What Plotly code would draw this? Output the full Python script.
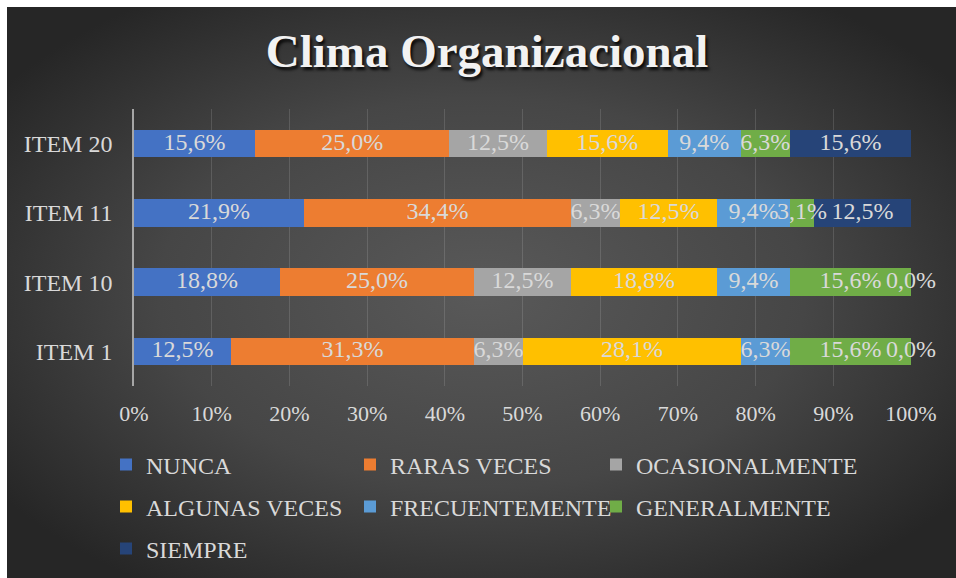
import base64
import plotly.graph_objects as go

# ---------------- data ----------------
items = ["ITEM 1", "ITEM 10", "ITEM 11", "ITEM 20"]
series = ["NUNCA", "RARAS VECES", "OCASIONALMENTE", "ALGUNAS VECES",
          "FRECUENTEMENTE", "GENERALMENTE", "SIEMPRE"]
nunca = [12.5, 18.8, 21.9, 15.6]
raras_veces = [31.3, 25.0, 34.4, 25.0]
ocasionalmente = [6.3, 12.5, 6.3, 12.5]
algunas_veces = [28.1, 18.8, 12.5, 15.6]
frecuentemente = [6.3, 9.4, 9.4, 9.4]
generalmente = [15.6, 15.6, 3.1, 6.3]
siempre = [0.0, 0.0, 12.5, 15.6]
x_tick_values = [0, 10, 20, 30, 40, 50, 60, 70, 80, 90, 100]
x_tick_labels = ["0%", "10%", "20%", "30%", "40%", "50%", "60%", "70%", "80%", "90%", "100%"]
title_text = "Clima Organizacional"

values = [nunca, raras_veces, ocasionalmente, algunas_veces,
          frecuentemente, generalmente, siempre]
colors = ["#4472C4", "#ED7D31", "#A5A5A5", "#FFC000", "#5B9BD5", "#70AD47", "#264478"]

W, H = 956, 578
ML, MR, MT, MB = 134, 45, 109, 192
PW, PH = W - ML - MR, H - MT - MB

FONT = "Liberation Serif, Times New Roman, serif"
TXT = "#D9D9D9"
LBL = 24

# legend grid: 3 columns, rows of 3 / 3 / 1 (pixel positions of each entry)
leg_cols_px = [106, 350, 596]
leg_rows_px = [465, 507, 549]


def fmt(v):
    return f"{v:.1f}".replace(".", ",") + "%"


fig = go.Figure()
for i, (name, vals, col) in enumerate(zip(series, values, colors)):
    lid = "legend" if i == 0 else f"legend{i + 1}"
    fig.add_trace(go.Bar(
        y=items, x=vals, name=name, orientation="h",
        marker=dict(color=col, line=dict(width=0)),
        legend=lid, hoverinfo="skip",
    ))

# data labels (drawn on top of every bar, centred on each segment)
lx, ly, lt = [], [], []
for k, it in enumerate(items):
    total = sum(v[k] for v in values)
    cum = 0.0
    for vals in values:
        lx.append(100.0 * (cum + vals[k] / 2) / total)
        ly.append(it)
        lt.append(fmt(vals[k]))
        cum += vals[k]
fig.add_trace(go.Scatter(
    x=lx, y=ly, text=lt, mode="text", showlegend=False, cliponaxis=False,
    textposition="middle center",
    textfont=dict(family=FONT, size=LBL, color=TXT), hoverinfo="skip",
))

# background radial gradient (chart area) as an SVG image
bw, bh = W - 7, H - 7
svg = (f'<svg xmlns="http://www.w3.org/2000/svg" width="{bw}" height="{bh}">'
       '<defs><radialGradient id="g" cx="50%" cy="50%" r="62%">'
       '<stop offset="0" stop-color="#595959"/>'
       '<stop offset="0.55" stop-color="#464646"/>'
       '<stop offset="1" stop-color="#262626"/>'
       '</radialGradient></defs>'
       f'<rect width="{bw}" height="{bh}" fill="url(#g)"/></svg>')
src = "data:image/svg+xml;base64," + base64.b64encode(svg.encode()).decode()

fig.update_layout(
    width=W, height=H,
    margin=dict(l=ML, r=MR, t=MT, b=MB, pad=0, autoexpand=False),
    paper_bgcolor="white", plot_bgcolor="rgba(0,0,0,0)",
    barmode="stack", barnorm="percent", bargap=0.6,
    font=dict(family=FONT, color=TXT, size=22),
    title=dict(text=title_text, x=487 / W, xanchor="center", xref="container",
               y=1 - 51 / H, yanchor="middle", yref="container",
               font=dict(family=FONT, size=47, color="#F2F2F2", weight="bold",
                         shadow="2px 3px 3px rgba(0,0,0,0.85)")),
    images=[dict(source=src, xref="paper", yref="paper",
                 x=(7 - ML) / PW, y=(H - MB - 7) / PH,
                 sizex=bw / PW, sizey=bh / PH,
                 xanchor="left", yanchor="top", sizing="stretch", layer="below")],
    xaxis=dict(range=[0, 100], tickvals=x_tick_values, ticktext=x_tick_labels,
               showgrid=True, gridcolor="rgba(255,255,255,0.13)", gridwidth=1,
               zeroline=False, showline=False, ticks="",
               tickfont=dict(family=FONT, size=22, color=TXT),
               ticklabelstandoff=12, automargin=False),
    yaxis=dict(showline=True, linecolor="#A6A6A6", linewidth=1.5,
               showgrid=False, ticks="", ticklabelstandoff=15, automargin=False,
               tickfont=dict(family=FONT, size=24, color=TXT)),
    showlegend=True,
)

for i in range(len(series)):
    lid = "legend" if i == 0 else f"legend{i + 1}"
    px = leg_cols_px[i % 3]
    py = leg_rows_px[i // 3]
    fig.update_layout({lid: dict(
        orientation="v", xanchor="left", yanchor="middle",
        bgcolor="rgba(0,0,0,0)", borderwidth=0,
        font=dict(family=FONT, size=24, color=TXT),
        x=(px - ML) / PW, y=(H - MB - py) / PH)})

fig.write_html("out.html", config={"displayModeBar": False},
               post_script="document.body.style.margin='0';document.body.style.overflow='hidden';")
